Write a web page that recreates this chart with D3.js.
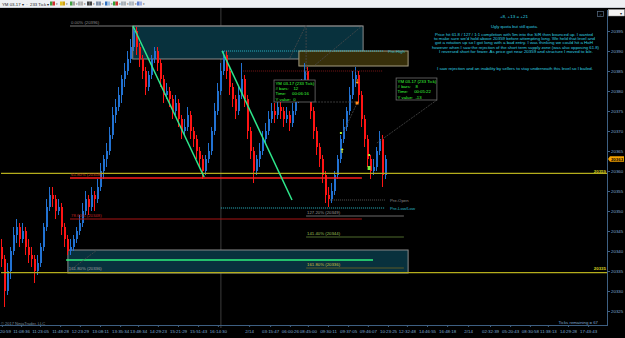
<!DOCTYPE html>
<html>
<head>
<meta charset="utf-8">
<script src="https://cdn.jsdelivr.net/npm/d3@7"></script>
<style>
  body { margin: 0; background: #000; }
  svg { display: block; font-family: "Liberation Sans", Arial, sans-serif; }
</style>
</head>
<body>
<div id="chart"></div>
<script>
// YM 03-17 (233 Tick) - bars, one per slot
const firstOpen = 20341;
const closes = [
  20338, 20330, 20335, 20340, 20344, 20346, 20343, 20345, 20341, 20339,
  20338, 20335, 20337, 20341, 20346, 20351, 20354, 20353, 20350, 20351,
  20346, 20343, 20340, 20341, 20343, 20345, 20347, 20350, 20353, 20351,
  20354, 20353, 20356, 20360, 20363, 20365, 20369, 20374, 20376, 20379,
  20383, 20385, 20388, 20391, 20395, 20391, 20388, 20385, 20381, 20384,
  20388, 20390, 20387, 20383, 20379, 20380, 20378, 20375, 20377, 20373,
  20370, 20371, 20374, 20370, 20368, 20365, 20363, 20360, 20363, 20365,
  20370, 20375, 20380, 20385, 20389, 20385, 20381, 20378, 20375, 20379,
  20383, 20378, 20370, 20365, 20360, 20363, 20365, 20368, 20370, 20373,
  20375, 20374, 20376, 20375, 20373, 20374, 20372, 20375, 20378, 20379,
  20381, 20385, 20380, 20375, 20370, 20366, 20363, 20359, 20354, 20353,
  20355, 20359, 20363, 20368, 20371, 20375, 20379, 20383, 20384, 20379,
  20373, 20368, 20363, 20360, 20361, 20365, 20368, 20359, 20363
];
const highs = [
  20343, 20339, 20337, 20341, 20346, 20348, 20347, 20347, 20346, 20343,
  20341, 20339, 20339, 20342, 20347, 20353, 20356, 20356, 20354, 20353,
  20352, 20347, 20344, 20343, 20344, 20346, 20349, 20352, 20355, 20354,
  20356, 20355, 20358, 20362, 20364, 20367, 20371, 20376, 20378, 20381,
  20384, 20387, 20390, 20393, 20396, 20396, 20392, 20389, 20386, 20385,
  20389, 20391, 20391, 20388, 20384, 20382, 20381, 20379, 20379, 20378,
  20374, 20373, 20376, 20375, 20371, 20369, 20366, 20364, 20364, 20367,
  20371, 20377, 20382, 20387, 20390, 20390, 20386, 20382, 20379, 20381,
  20387, 20384, 20379, 20371, 20366, 20364, 20367, 20370, 20372, 20375,
  20377, 20377, 20378, 20378, 20376, 20376, 20375, 20377, 20379, 20381,
  20383, 20387, 20386, 20381, 20376, 20371, 20367, 20364, 20360, 20356,
  20357, 20360, 20364, 20369, 20373, 20376, 20381, 20385, 20386, 20385,
  20380, 20374, 20369, 20364, 20363, 20366, 20370, 20369, 20364
];
const lows = [
  20336, 20326, 20329, 20333, 20339, 20342, 20341, 20342, 20339, 20337,
  20336, 20332, 20334, 20336, 20340, 20345, 20350, 20351, 20348, 20349,
  20344, 20341, 20339, 20339, 20340, 20342, 20344, 20346, 20349, 20349,
  20350, 20350, 20352, 20355, 20358, 20361, 20364, 20368, 20372, 20375,
  20377, 20381, 20384, 20387, 20390, 20389, 20386, 20383, 20379, 20380,
  20383, 20387, 20385, 20381, 20377, 20378, 20376, 20373, 20374, 20371,
  20368, 20369, 20370, 20368, 20366, 20363, 20361, 20358, 20359, 20362,
  20364, 20369, 20374, 20379, 20384, 20383, 20379, 20376, 20373, 20374,
  20378, 20376, 20368, 20363, 20357, 20359, 20361, 20364, 20367, 20369,
  20372, 20372, 20373, 20373, 20371, 20372, 20370, 20371, 20374, 20377,
  20378, 20380, 20378, 20373, 20368, 20364, 20361, 20357, 20352, 20351,
  20352, 20354, 20358, 20362, 20367, 20370, 20374, 20378, 20381, 20377,
  20371, 20366, 20361, 20358, 20359, 20360, 20364, 20356, 20358
];

const priceTicks = [20325, 20330, 20335, 20340, 20345, 20350, 20355, 20360,
  20365, 20370, 20375, 20380, 20385, 20390, 20395];

const timeLabels = ["10:20:59", "11:08:36", "11:23:05", "11:48:28", "12:23:29",
  "13:08:11", "13:35:34", "13:48:34", "14:29:23", "15:21:29", "15:51:43",
  "16:14:30", "2/14", "03:15:47", "06:00:26", "08:45:00", "09:30:11",
  "09:37:05", "09:46:07", "10:23:25", "12:32:48", "14:46:55", "16:48:18",
  "2/14", "02:32:39", "05:20:43", "08:30:58", "11:38:13", "14:29:28", "17:43:43"];
const timeSlots = [0.3, 6.7, 13, 19.7, 26.3, 33, 39.7, 45.7, 52.3, 59, 65.7,
  72.3, 82.7, 89.7, 96.3, 102.3, 109, 115.7, 122.3, 129, 135.3, 142, 148.7,
  155.7, 163, 169.7, 176.3, 182.3, 189, 195.7];

const sessionBreak = 73.3;

// zones: [name, fromSlot, toSlot, topPrice, bottomPrice]
const zones = [
  ["fibTop", 43.9, 120.7, 20396.25, 20388],
  ["supply", 99.3, 135.7, 20390, 20386.25],
  ["fibBottom", 22.3, 135.7, 20340.25, 20334.5]
];

// horizontal levels: [name, price, fromSlot, toSlot, label]
const levels = [
  ["yellow", 20359.4, 0, 202, ""],
  ["yellow", 20334.6, 0, 202, ""],
  ["fib0", 20396.25, 23, 120.7, "0.00% (20396)"],
  ["fib618", 20358.25, 23, 120.3, "61.80% (20358)"],
  ["fib786", 20348, 23, 120.3, "78.60% (20348)"],
  ["green", 20337.75, 21.7, 124, ""],
  ["ext1272", 20348.75, 101.7, 134.3, "127.20% (20349)"],
  ["ext1414", 20343.5, 101.7, 134.3, "141.40% (20344)"],
  ["ext1618", 20335.75, 101.7, 134.3, "161.80% (20336)"],
  ["preHigh", 20390, 73.7, 127.3, "Pre-High"],
  ["redDot", 20385, 80.7, 127.3, ""],
  ["preOpen", 20352.75, 109.7, 128, "Pre-Open"],
  ["preLow", 20350.75, 73.3, 128, "Pre-Low/Low"]
];

// trend lines: [slot1, price1, slot2, price2]
const trendLines = [
  [44, 20396.25, 67.7, 20358.5],
  [73.7, 20390, 97, 20352.75]
];

// thin grey tool lines
const toolLines = [
  [96.3, 20388.25, 101.7, 20396.5],
  [101.7, 20396.5, 101.7, 20384],
  [104.7, 20386.5, 120.7, 20396.5],
  [104.7, 20377.25, 118.7, 20377.25],
  [118.7, 20377, 114, 20369.5],
  [125.3, 20367, 145.3, 20377.75],
  [22.3, 20334.75, 32, 20340.25]
];

const markers = [
  [113.3, 20369.5, "dash"],
  [113.7, 20365, "up"],
  [122.7, 20364, "dash"],
  [122.7, 20360.75, "block"],
  [118.7, 20382.5, "down"],
  [118.7, 20377, "square"]
];

const infoBoxes = [
  { from: 91, to: 104.7, top: 20382.75, bottom: 20377.25,
    lines: ["YM 03-17 (233 Tick)", "# bars:    12", "Time:     00:06:16", "Y value:  0"] },
  { from: 131.7, to: 145.3, top: 20383.25, bottom: 20377.75,
    lines: ["YM 03-17 (233 Tick)", "# bars:    8", "Time:     00:05:22", "Y value:  -13"] }
];

const priceMarkers = [
  ["20359", 20359.6, "#d8d020"],
  ["20335", 20335.5, "#d8d020"]
];
const lastPrice = 20363;

const notes = [
  "+8, +13 = +21",
  "Ugly quota but still quota.",
  "Price hit 61.8 / 127 / 1:1 completion with 5m into the S/R then bounced up.  I wanted",
  "to make sure we'd hold above 20359 before attempting long.  We held that level and",
  "got a rotation up so I got long with a bad entry.  I was thinking we could hit a HoH",
  "however when I saw the rejection of the short term supply zone (was also opposing 61.8)",
  "I reversed short for fewer.  As price got near 20359 and structure I moved to b/e.",
  "I saw rejection and an inability by sellers to stay underneath this level so I bailed."
];

// ------------------------------------------------------------------
const W = 625, H = 338;
const plotRight = 607, plotTop = 8, plotBottom = 325;

const svg = d3.select("#chart").append("svg")
  .attr("width", W)
  .attr("height", H);

svg.append("rect").attr("width", W).attr("height", H).attr("fill", "#000");

const x = d3.scaleLinear().domain([0, 202]).range([1, plotRight]);
const y = d3.scaleLinear().domain([20325, 20395]).range([311, 31]);

const levelStyle = {
  yellow:  { stroke: "#b4ad1c", width: 1.4, dash: null, text: "#d0c840" },
  fib0:    { stroke: "#7a7a7a", width: 1, dash: null, text: "#8c8c8c" },
  fib618:  { stroke: "#ff1c1c", width: 1.6, dash: null, text: "#c8401c" },
  fib786:  { stroke: "#a81414", width: 1, dash: null, text: "#c02424" },
  green:   { stroke: "#2cf07c", width: 1.6, dash: null, text: "#2cf07c" },
  ext1272: { stroke: "#6a6a6a", width: 1, dash: null, text: "#9a9a9a" },
  ext1414: { stroke: "#4e6a2c", width: 1, dash: null, text: "#9cc058" },
  ext1618: { stroke: "#5c5a26", width: 1.2, dash: null, text: "#d0c040" },
  preHigh: { stroke: "#2ab8c8", width: 1, dash: "1,1", text: "#2ab8c8" },
  redDot:  { stroke: "#7a1616", width: 1, dash: "1,1", text: "#7a1616" },
  preOpen: { stroke: "#555", width: 1, dash: "1,1", text: "#8a8a8a" },
  preLow:  { stroke: "#2ab8c8", width: 1, dash: "1,1", text: "#2ab8c8" }
};

const zoneStyle = {
  fibTop:    { fill: "#08313d", stroke: "#8a8a8a" },
  supply:    { fill: "#372f0a", stroke: "#a49c80" },
  fibBottom: { fill: "#08313d", stroke: "#8a8a8a" }
};

// session break
svg.append("line")
  .attr("x1", x(sessionBreak)).attr("x2", x(sessionBreak))
  .attr("y1", plotTop).attr("y2", plotBottom + 3)
  .attr("stroke", "#3c3c3c").attr("stroke-width", 1);

// zones
svg.append("g").selectAll("rect")
  .data(zones)
  .join("rect")
  .attr("x", d => x(d[1]))
  .attr("y", d => y(d[3]))
  .attr("width", d => x(d[2]) - x(d[1]))
  .attr("height", d => y(d[4]) - y(d[3]))
  .attr("fill", d => zoneStyle[d[0]].fill)
  .attr("stroke", d => zoneStyle[d[0]].stroke)
  .attr("stroke-width", 1);

// candles
const bars = closes.map((c, i) => ({
  i, o: i ? closes[i - 1] : firstOpen, h: highs[i], l: lows[i], c
}));
const upColor = "#2272d2", downColor = "#ff1414";
const candles = svg.append("g");
candles.selectAll("line")
  .data(bars)
  .join("line")
  .attr("x1", d => Math.round(x(d.i)) + 0.5)
  .attr("x2", d => Math.round(x(d.i)) + 0.5)
  .attr("y1", d => y(d.h))
  .attr("y2", d => y(d.l))
  .attr("stroke", d => d.c >= d.o ? upColor : downColor)
  .attr("stroke-width", 1);
candles.selectAll("rect")
  .data(bars)
  .join("rect")
  .attr("x", d => Math.round(x(d.i)))
  .attr("y", d => y(Math.max(d.o, d.c)))
  .attr("width", 2)
  .attr("height", d => Math.max(1, Math.abs(y(d.o) - y(d.c))))
  .attr("fill", d => d.c >= d.o ? upColor : downColor);

// levels
const lv = svg.append("g");
lv.selectAll("line")
  .data(levels)
  .join("line")
  .attr("x1", d => x(d[2]))
  .attr("x2", d => x(d[3]))
  .attr("y1", d => y(d[1]))
  .attr("y2", d => y(d[1]))
  .attr("stroke", d => levelStyle[d[0]].stroke)
  .attr("stroke-width", d => levelStyle[d[0]].width)
  .attr("stroke-dasharray", d => levelStyle[d[0]].dash);

// level labels: fib ones sit above the line at its left end, pre-market ones after its right end
lv.selectAll("text")
  .data(levels.filter(d => d[4]))
  .join("text")
  .attr("x", d => d[0].startsWith("pre") ? x(d[3]) + 5 : x(d[2]) + 1)
  .attr("y", d => d[0].startsWith("pre") ? y(d[1]) + 1.5 : y(d[1]) - 1.8)
  .attr("font-size", 4.3)
  .attr("fill", d => levelStyle[d[0]].text)
  .text(d => d[4]);

// second 161.8 label on the lower zone
svg.append("text")
  .attr("x", x(22.6)).attr("y", y(20335.3))
  .attr("font-size", 4.3).attr("fill", "#a0a0a0")
  .text("161.80% (20336)");

// tool lines
svg.append("g").selectAll("line")
  .data(toolLines)
  .join("line")
  .attr("x1", d => x(d[0])).attr("y1", d => y(d[1]))
  .attr("x2", d => x(d[2])).attr("y2", d => y(d[3]))
  .attr("stroke", "#4a4a4a").attr("stroke-width", 0.8)
  .attr("stroke-dasharray", "2,1");

// trend lines
svg.append("g").selectAll("line")
  .data(trendLines)
  .join("line")
  .attr("x1", d => x(d[0])).attr("y1", d => y(d[1]))
  .attr("x2", d => x(d[2])).attr("y2", d => y(d[3]))
  .attr("stroke", "#2ee88c").attr("stroke-width", 1.5);

// trade markers
const mk = svg.append("g");
markers.forEach(([s, p, kind]) => {
  const mx = x(s), my = y(p);
  if (kind === "dash") {
    mk.append("rect").attr("x", mx - 1).attr("y", my - 1).attr("width", 2).attr("height", 2).attr("fill", "#a8f030");
  } else if (kind === "up") {
    mk.append("path").attr("d", `M${mx},${my - 3}L${mx - 1.5},${my - 1}L${mx + 1.5},${my - 1}Z`).attr("fill", "#d8f030");
    mk.append("rect").attr("x", mx - 0.5).attr("y", my - 1).attr("width", 1).attr("height", 3).attr("fill", "#d8f030");
  } else if (kind === "block") {
    mk.append("rect").attr("x", mx - 1.5).attr("y", my - 2).attr("width", 3).attr("height", 4).attr("fill", "#7af040");
  } else if (kind === "down") {
    mk.append("path").attr("d", `M${mx},${my + 3}L${mx - 1.5},${my + 1}L${mx + 1.5},${my + 1}Z`).attr("fill", "#ffaa20");
    mk.append("rect").attr("x", mx - 0.5).attr("y", my - 2).attr("width", 1).attr("height", 3).attr("fill", "#ffaa20");
  } else {
    mk.append("rect").attr("x", mx - 1.5).attr("y", my - 1.5).attr("width", 3).attr("height", 3).attr("fill", "#ff8c1a");
  }
});

// info boxes
infoBoxes.forEach(b => {
  const g = svg.append("g");
  g.append("rect")
    .attr("x", x(b.from)).attr("y", y(b.top))
    .attr("width", x(b.to) - x(b.from)).attr("height", y(b.bottom) - y(b.top))
    .attr("fill", "#000").attr("stroke", "#6e6e6e").attr("stroke-width", 0.8);
  g.selectAll("text")
    .data(b.lines)
    .join("text")
    .attr("x", x(b.from) + 1.5)
    .attr("y", (d, i) => y(b.top) + 4.5 + i * 5.4)
    .attr("font-size", 4.3)
    .attr("fill", "#3cff3c")
    .attr("xml:space", "preserve")
    .style("white-space", "pre")
    .text(d => d);
});

// axes
const axisColor = "#3d5f82", labelColor = "#7ea8d0";
const yAxis = svg.append("g")
  .attr("transform", `translate(${plotRight},0)`)
  .call(d3.axisRight(y).tickValues(priceTicks).tickSize(3).tickPadding(1).tickFormat(d3.format("d")));
yAxis.select(".domain").remove();
svg.append("line")
  .attr("x1", plotRight + 0.5).attr("x2", plotRight + 0.5)
  .attr("y1", plotTop + 2).attr("y2", plotBottom)
  .attr("stroke", axisColor);

const xAxis = svg.append("g")
  .attr("transform", `translate(0,${plotBottom})`)
  .call(d3.axisBottom(x).tickValues(timeSlots).tickSize(2).tickPadding(2.5)
    .tickFormat((d, i) => timeLabels[i]));
xAxis.select(".domain").remove();
svg.append("line")
  .attr("x1", 0).attr("x2", plotRight + 1)
  .attr("y1", plotBottom + 0.5).attr("y2", plotBottom + 0.5)
  .attr("stroke", axisColor);

svg.selectAll(".tick line").attr("stroke", axisColor);
svg.selectAll(".tick text")
  .attr("fill", labelColor)
  .attr("font-size", 4.4)
  .attr("font-family", "Liberation Sans, Arial, sans-serif");

// line price labels on the right edge
svg.append("g").selectAll("text")
  .data(priceMarkers)
  .join("text")
  .attr("x", plotRight - 1)
  .attr("y", d => y(d[1]) + 0.5)
  .attr("text-anchor", "end")
  .attr("font-size", 4.4)
  .attr("font-weight", "bold")
  .attr("fill", d => d[2])
  .text(d => d[0]);

// last price marker
const lp = svg.append("g").attr("transform", `translate(${plotRight + 1},${y(lastPrice)})`);
lp.append("path")
  .attr("d", "M0,0L2,-2.8H16V2.8H2Z")
  .attr("fill", "#f5a300");
lp.append("text")
  .attr("x", 9).attr("y", 1.6)
  .attr("text-anchor", "middle")
  .attr("font-size", 4.4)
  .attr("font-weight", "bold")
  .attr("fill", "#000")
  .text(String(lastPrice));

// notes
const noteY = [18.4, 28.4, 35.8, 40.2, 44.4, 48.6, 52.8, 70.4];
const noteW = [28, 47, 158, 161, 158, 167, 154, 156];
const noteX = [514, 514.5, 514, 514.5, 514, 515.5, 516, 515];
svg.append("g").selectAll("text")
  .data(notes)
  .join("text")
  .attr("x", (d, i) => noteX[i])
  .attr("y", (d, i) => noteY[i])
  .attr("text-anchor", "middle")
  .attr("font-size", 4.2)
  .attr("textLength", (d, i) => noteW[i])
  .attr("lengthAdjust", "spacingAndGlyphs")
  .attr("fill", "#2fd2e0")
  .text(d => d);

// footer texts
svg.append("text")
  .attr("x", 1).attr("y", 324.5)
  .attr("font-size", 4).attr("fill", "#7a8a9a")
  .text("© 2017 NinjaTrader, LLC");
svg.append("text")
  .attr("x", 598).attr("y", 323.5)
  .attr("text-anchor", "end")
  .attr("font-size", 4.3).attr("fill", "#7ea8d0")
  .text("Ticks remaining = 67");

// toolbar
const tb = svg.append("g");
tb.append("rect").attr("width", W).attr("height", 7.5).attr("fill", "#eef0f3");
tb.append("line").attr("x1", 0).attr("x2", W).attr("y1", 7.5).attr("y2", 7.5).attr("stroke", "#c8ccd2");
tb.append("text")
  .attr("x", 2).attr("y", 5.6)
  .attr("font-size", 4.3).attr("fill", "#222")
  .attr("xml:space", "preserve")
  .text("YM 03-17 \u25be  \u00b7  233 Tick \u25be");
const icons = [
  [50, "#3a9a3a", "#d03030"], [60, "#e0c020", "#d0a010"], [70, "#40a040", "#a0a0a0"],
  [78, "#b0b0b0", "#b0b0b0"], [87, "#404040", "#404040"], [96, "#8090a8", "#8090a8"],
  [105, "#3070c0", "#a0c0e0"], [113, "#30a030", "#d03030"], [121, "#a8b0b8", "#a8b0b8"],
  [129, "#b0b8c0", "#b0b8c0"], [137, "#6080d0", "#a0b0e0"]
];
icons.forEach(([ix, c1, c2]) => {
  tb.append("rect").attr("x", ix).attr("y", 1.5).attr("width", 2.5).attr("height", 4).attr("fill", c1);
  tb.append("rect").attr("x", ix + 2.5).attr("y", 1.5).attr("width", 2.5).attr("height", 4).attr("fill", c2);
  tb.append("text").attr("x", ix + 5.5).attr("y", 5).attr("font-size", 3).attr("fill", "#444").text("\u25be");
});

// top-right widgets
svg.append("rect").attr("x", 597.5).attr("y", 11.5).attr("width", 6).attr("height", 5)
  .attr("fill", "none").attr("stroke", "#5a6f88").attr("stroke-width", 0.7);
svg.append("text").attr("x", 599.2).attr("y", 15.6).attr("font-size", 4).attr("fill", "#5a6f88").text(">");
svg.append("rect").attr("x", 608.5).attr("y", 9.5).attr("width", 16).attr("height", 6.5)
  .attr("fill", "#f4f4f4").attr("stroke", "#999").attr("stroke-width", 0.5);
svg.append("text").attr("x", 620).attr("y", 14.5).attr("font-size", 4).attr("fill", "#222").text("\u25be");
</script>
</body>
</html>
